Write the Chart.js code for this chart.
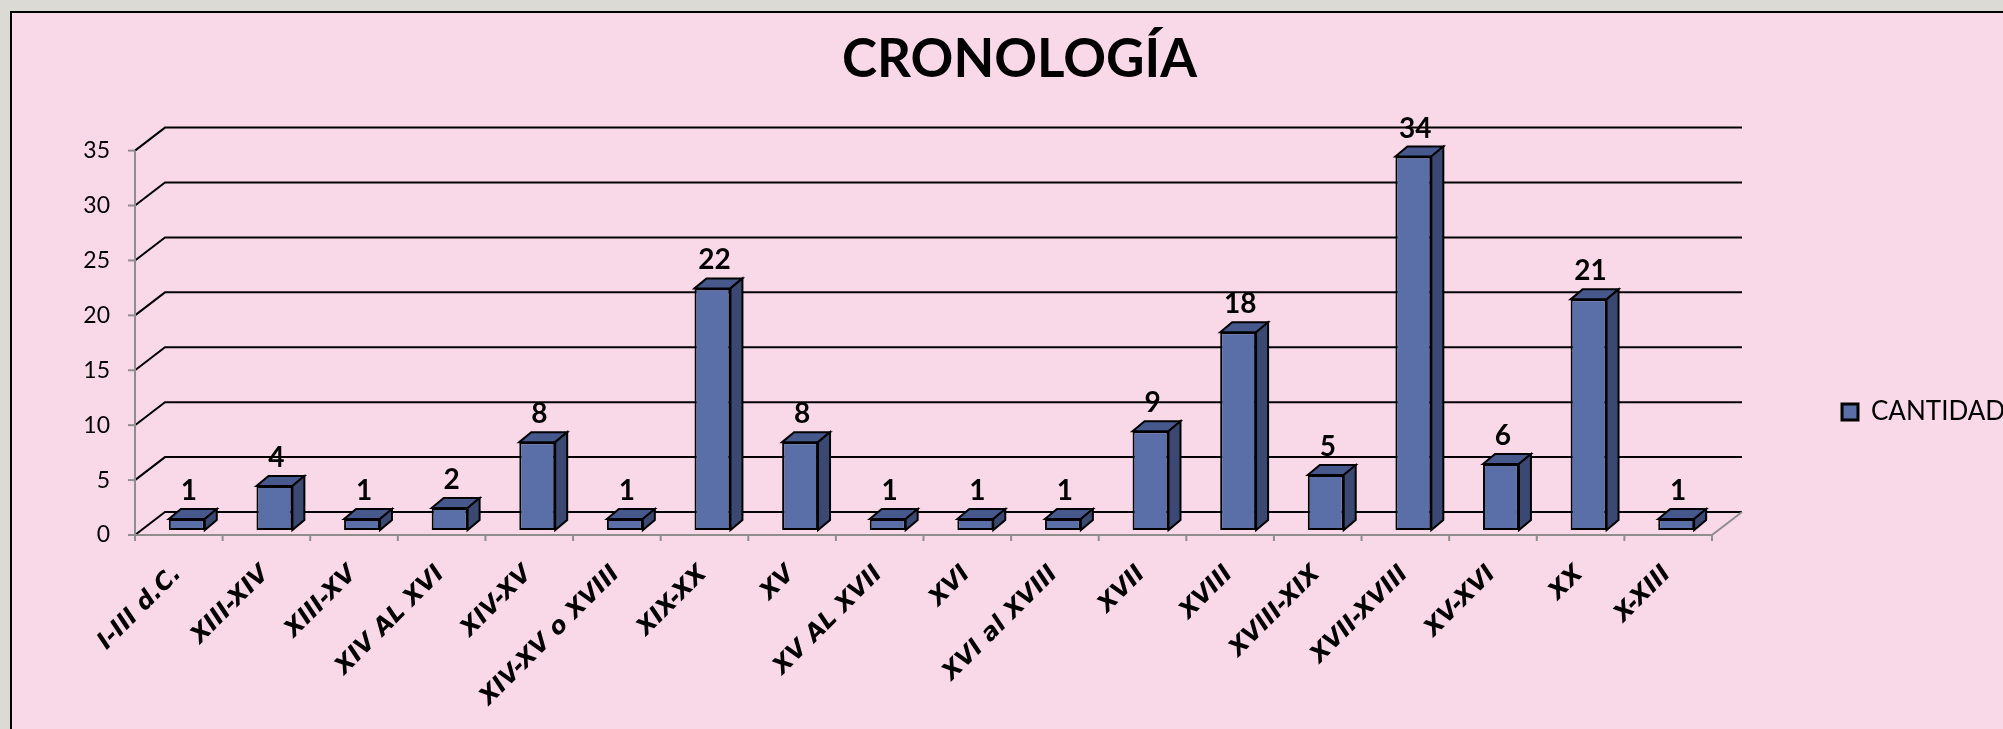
<!DOCTYPE html>
<html>
<head>
<meta charset="utf-8">
<script src="https://cdn.jsdelivr.net/npm/chart.js@4.4.1/dist/chart.umd.min.js"></script>
<style>
  html, body { margin: 0; padding: 0; background: #dcdad5; overflow: hidden; }
  .marco { position: absolute; left: 10px; top: 11px; width: 1993px; height: 718px; background: #f9d9e8; border-left: 2px solid #000; border-top: 2px solid #000; }
  .caja { position: absolute; left: 0; top: 0; width: 1991px; height: 716px; }
</style>
</head>
<body>
<div class="marco"><div class="caja"><canvas id="grafico"></canvas></div></div>
<script>
// datos
const categorias = ['I-III d.C.', 'XIII-XIV', 'XIII-XV', 'XIV AL XVI', 'XIV-XV', 'XIV-XV o XVIII', 'XIX-XX', 'XV',
  'XV AL XVII', 'XVI', 'XVI al XVIII', 'XVII', 'XVIII', 'XVIII-XIX', 'XVII-XVIII', 'XV-XVI', 'XX', 'X-XIII'];
const cantidad = [1, 4, 1, 2, 8, 1, 22, 8, 1, 1, 1, 9, 18, 5, 34, 6, 21, 1];
const ejeMin = 0;
const ejeMax = 35;
const ejePaso = 5;

// profundidad de las columnas y de la pared del fondo
const PROF_X = 12, PROF_Y = 10;
const FONDO_X = 30, FONDO_Y = 23;
const FRENTE_X = -8, FRENTE_Y = 5;

const efecto3d = {
  id: 'efecto3d',
  beforeDatasetsDraw(chart) {
    const { ctx, chartArea: a, scales: { x, y } } = chart;
    const x0 = a.left + FRENTE_X, x1 = a.right + FRENTE_X;
    const yBase = y.getPixelForValue(ejeMin) + FRENTE_Y;
    const yTop = y.getPixelForValue(ejeMax) + FRENTE_Y;
    ctx.save();
    ctx.lineWidth = 2;
    ctx.strokeStyle = '#000';
    y.ticks.forEach(t => {
      const py = y.getPixelForValue(t.value) + FRENTE_Y;
      ctx.beginPath();
      ctx.moveTo(x0, py);
      ctx.lineTo(x0 + FONDO_X, py - FONDO_Y);
      ctx.lineTo(x1 + FONDO_X, py - FONDO_Y);
      ctx.stroke();
    });
    // ejes grises
    ctx.strokeStyle = '#8e8e8e';
    ctx.beginPath();
    ctx.moveTo(x0, yTop);
    ctx.lineTo(x0, yBase);
    ctx.lineTo(x1, yBase);
    ctx.lineTo(x1 + FONDO_X, yBase - FONDO_Y);
    ctx.stroke();
    y.ticks.forEach(t => {
      const py = y.getPixelForValue(t.value) + FRENTE_Y;
      ctx.beginPath();
      ctx.moveTo(x0 - 7, py);
      ctx.lineTo(x0, py);
      ctx.stroke();
    });
    const paso = (x1 - x0) / categorias.length;
    for (let i = 0; i <= categorias.length; i++) {
      ctx.beginPath();
      ctx.moveTo(x0 + i * paso, yBase);
      ctx.lineTo(x0 + i * paso, yBase + 6);
      ctx.stroke();
    }
    ctx.restore();
  },
  afterDatasetsDraw(chart) {
    const { ctx } = chart;
    const meta = chart.getDatasetMeta(0);
    ctx.save();
    ctx.lineWidth = 2;
    ctx.strokeStyle = '#000';
    ctx.lineJoin = 'miter';
    meta.data.forEach((bar, i) => {
      const { x, y, base, width } = bar.getProps(['x', 'y', 'base', 'width'], true);
      const l = x - width / 2, r = x + width / 2;
      // techo
      ctx.fillStyle = '#47588c';
      ctx.beginPath();
      ctx.moveTo(l, y);
      ctx.lineTo(l + PROF_X, y - PROF_Y);
      ctx.lineTo(r + PROF_X, y - PROF_Y);
      ctx.lineTo(r, y);
      ctx.closePath();
      ctx.fill();
      ctx.stroke();
      // lado
      ctx.fillStyle = '#3a4872';
      ctx.beginPath();
      ctx.moveTo(r, y);
      ctx.lineTo(r + PROF_X, y - PROF_Y);
      ctx.lineTo(r + PROF_X, base - PROF_Y);
      ctx.lineTo(r, base);
      ctx.closePath();
      ctx.fill();
      ctx.stroke();
      // etiqueta
      ctx.fillStyle = '#000';
      ctx.font = 'bold 28px Lato';
      ctx.textAlign = 'center';
      ctx.textBaseline = 'bottom';
      ctx.fillText(String(cantidad[i]), x + 2, y - PROF_Y - 4);
    });
    ctx.restore();
  }
};

// la leyenda va más a la derecha que el área del gráfico
const ajusteLeyenda = {
  id: 'ajusteLeyenda',
  beforeLayout(chart) {
    const lg = chart.legend;
    if (lg && !lg._ajustada) {
      const fit = lg.fit.bind(lg);
      lg.fit = function () { fit(); this.width = 283; };
      lg._ajustada = true;
    }
  },
  afterLayout(chart) {
    const lg = chart.legend;
    if (lg) {
      const dx = 1820 - lg.left;
      lg.left += dx; lg.right += dx;
      const dy = 399 - (lg.top + lg.bottom) / 2;
      lg.top += dy; lg.bottom += dy;
    }
    const tb = chart.titleBlock;
    if (tb) { tb.left += 12; tb.right += 12; }
  }
};

new Chart(document.getElementById('grafico'), {
  type: 'bar',
  data: {
    labels: categorias,
    datasets: [{
      label: 'CANTIDAD',
      data: cantidad,
      backgroundColor: '#5a6ea7',
      borderColor: '#000',
      borderWidth: 2,
      borderSkipped: false,
      barPercentage: 0.41,
      categoryPercentage: 1
    }]
  },
  options: {
    responsive: true,
    maintainAspectRatio: false,
    animation: false,
    layout: { padding: 0 },
    plugins: {
      title: {
        display: true,
        text: 'CRONOLOGÍA',
        color: '#000',
        font: { family: 'Lato', size: 53, weight: 'bold' },
        padding: { top: 15, bottom: 54 }
      },
      legend: {
        position: 'right',
        labels: {
          boxWidth: 16,
          boxHeight: 16,
          padding: 10,
          color: '#000',
          font: { family: 'Lato', size: 26 },
          generateLabels(chart) {
            const items = Chart.defaults.plugins.legend.labels.generateLabels(chart);
            items.forEach(it => { it.lineWidth = 3; });
            return items;
          }
        }
      },
      tooltip: { enabled: false }
    },
    scales: {
      x: {
        grid: { display: false, drawTicks: false },
        border: { display: false },
        ticks: {
          autoSkip: false,
          minRotation: 45,
          maxRotation: 45,
          padding: 30,
          labelOffset: -9,
          color: '#000',
          font: { family: 'DejaVu Sans', size: 24, weight: 'bold', style: 'italic' }
        },
        afterFit(scale) { scale.height = 199; }
      },
      y: {
        min: ejeMin,
        max: ejeMax,
        grid: { display: false, drawTicks: false },
        border: { display: false },
        ticks: {
          stepSize: ejePaso,
          padding: 33,
          labelOffset: FRENTE_Y,
          color: '#000',
          font: { family: 'Lato', size: 23 }
        },
        afterFit(scale) { scale.width = 131; }
      }
    }
  },
  plugins: [efecto3d, ajusteLeyenda]
});
</script>
</body>
</html>
